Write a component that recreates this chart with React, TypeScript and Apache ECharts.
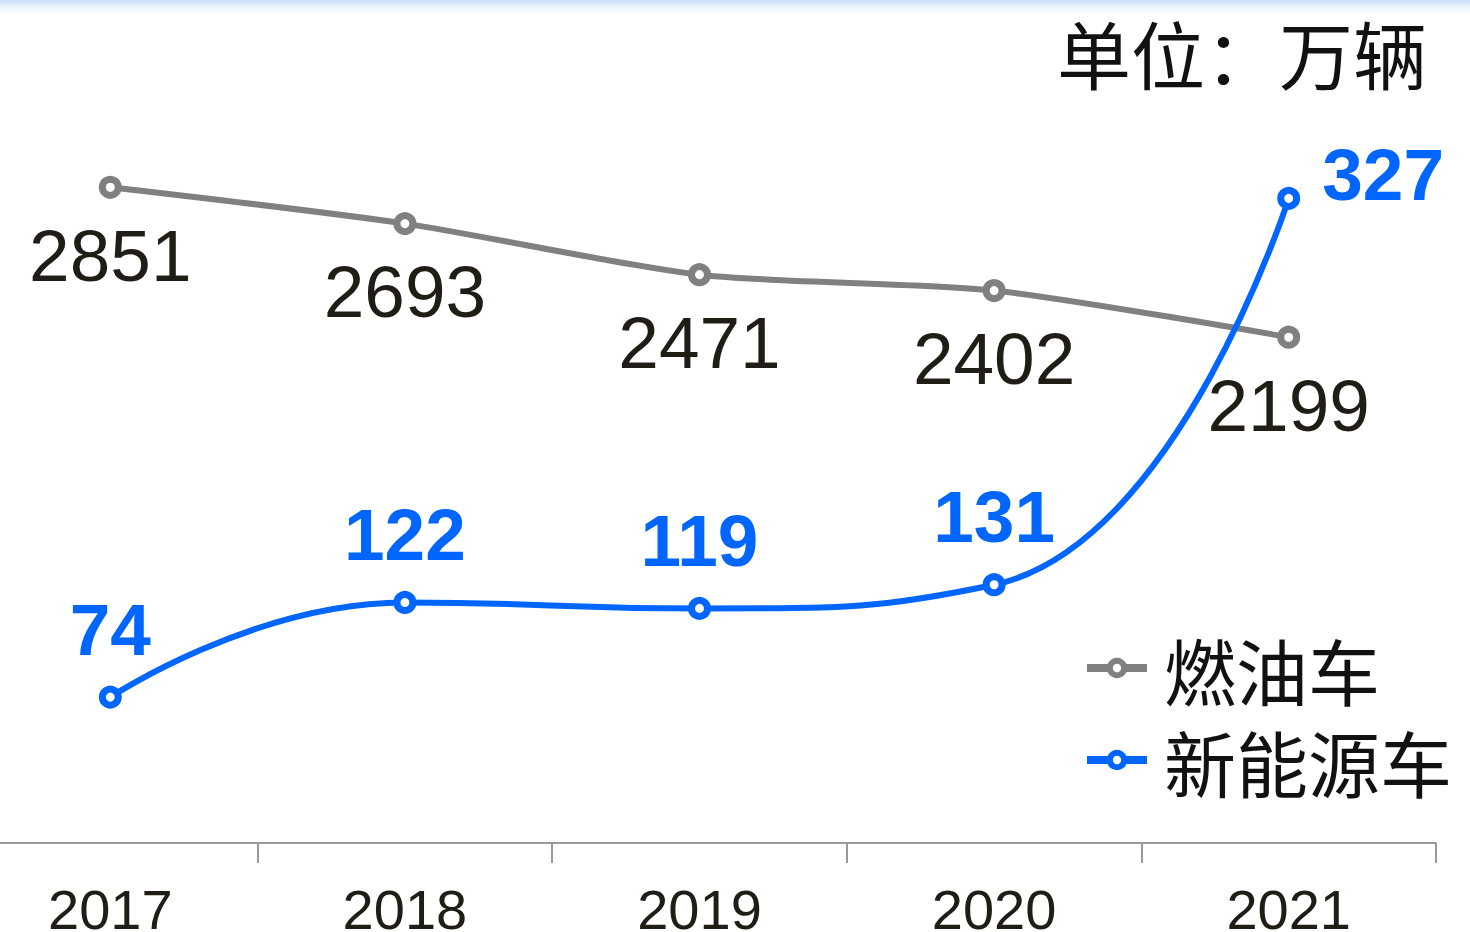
import React, { useEffect, useRef } from "react";
import * as echarts from "echarts";

const years = ["2017", "2018", "2019", "2020", "2021"];
const fuelCars = [2851, 2693, 2471, 2402, 2199];
const newEnergyCars = [74, 122, 119, 131, 327];
const seriesNames = ["燃油车", "新能源车"];
const unitText = "单位：万辆";

const GRAY = "#808080";
const BLUE = "#0066ff";
const DARK = "#1f1d16";
const FONT = "'Liberation Sans', Arial, sans-serif";
const CJK = "'Noto Sans CJK SC', sans-serif";
const SHIFT = 37;

export default function App() {
  const ref = useRef<HTMLDivElement>(null);
  useEffect(() => {
    document.body.style.margin = "0";
    const chart = echarts.init(ref.current!, undefined, { renderer: "svg" });
    chart.setOption({
      animation: false,
      backgroundColor: "#ffffff",
      graphic: [
        {
          type: "rect",
          left: 0,
          top: 0,
          shape: { width: 1470 + SHIFT, height: 18 },
          style: {
            fill: new echarts.graphic.LinearGradient(0, 0, 0, 1, [
              { offset: 0, color: "#c8dcfa" },
              { offset: 1, color: "rgba(255,255,255,0)" },
            ]),
          },
          z: -1,
        },
      ],
      title: {
        text: unitText,
        right: 38,
        top: 9,
        textStyle: { fontFamily: CJK, fontSize: 74, fontWeight: "normal", color: "#111" },
      },
      legend: {
        orient: "vertical",
        left: 1083 + SHIFT,
        top: 632,
        padding: 0,
        itemWidth: 60,
        itemHeight: 18,
        itemGap: 20,
        lineStyle: { width: 8 },
        itemStyle: { color: "#fff", borderWidth: 6 },
        textStyle: {
          fontFamily: CJK,
          fontSize: 72,
          lineHeight: 72,
          color: "#111",
          padding: [0, 0, 0, 12],
        },
        data: seriesNames,
      },
      grid: {
        left: 0,
        right: 34,
        top: 15,
        bottom: 89,
        containLabel: false,
        outerBoundsMode: "none",
      },
      xAxis: {
        type: "category",
        data: years,
        boundaryGap: true,
        axisLine: { lineStyle: { color: "#999", width: 2 } },
        axisTick: { show: true, length: 20, lineStyle: { color: "#999", width: 2 } },
        axisLabel: { fontFamily: FONT, fontSize: 56, lineHeight: 56, color: DARK, margin: 38 },
      },
      yAxis: [
        { type: "value", min: 0, max: 3600, show: false, splitLine: { show: false } },
        { type: "value", min: 0, max: 420, show: false, splitLine: { show: false } },
      ],
      series: [
        {
          name: seriesNames[0],
          type: "line",
          yAxisIndex: 0,
          data: fuelCars,
          smooth: 0.25,
          symbol: "circle",
          symbolSize: 16,
          color: GRAY,
          lineStyle: { color: GRAY, width: 6 },
          itemStyle: { color: "#fff", borderColor: GRAY, borderWidth: 7 },
          label: {
            show: true,
            position: "bottom",
            distance: 20,
            fontFamily: FONT,
            fontSize: 73,
            color: DARK,
          },
          z: 2,
        },
        {
          name: seriesNames[1],
          type: "line",
          yAxisIndex: 1,
          data: newEnergyCars.map((v, i) =>
            i === newEnergyCars.length - 1
              ? { value: v, label: { position: "right", distance: 22, offset: [0, -24] } }
              : v
          ),
          smooth: 0.5,
          symbol: "circle",
          symbolSize: 16,
          color: BLUE,
          lineStyle: { color: BLUE, width: 6 },
          itemStyle: { color: "#fff", borderColor: BLUE, borderWidth: 7 },
          label: {
            show: true,
            position: "top",
            distance: 20,
            fontFamily: FONT,
            fontSize: 73,
            fontWeight: "bold",
            color: BLUE,
          },
          z: 3,
        },
      ],
    });
    return () => chart.dispose();
  }, []);
  return (
    <div
      ref={ref}
      style={{ position: "absolute", left: -SHIFT, top: 0, width: 1470 + SHIFT, height: 932 }}
    />
  );
}
